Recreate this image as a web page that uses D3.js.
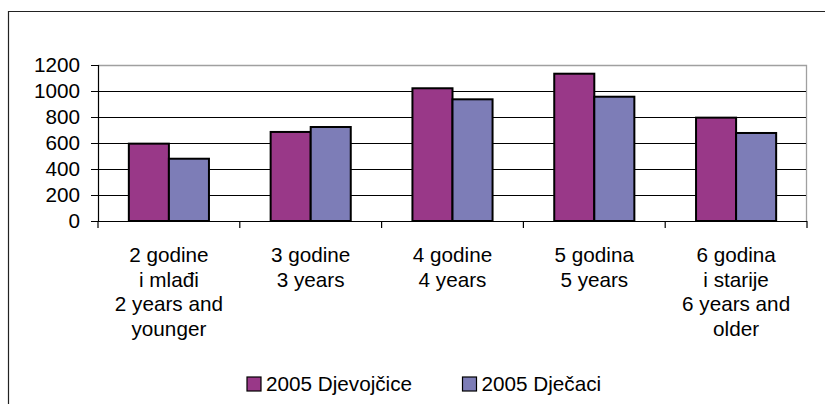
<!DOCTYPE html>
<html>
<head>
<meta charset="utf-8">
<script src="https://cdn.jsdelivr.net/npm/d3@7"></script>
<style>
  html, body { margin: 0; padding: 0; background: #fff; }
  svg { display: block; font-family: Arial, "Liberation Sans", sans-serif; }
</style>
</head>
<body>
<svg id="chart" width="825" height="404"></svg>
<script>
const categories = [
  ["2 godine", "i mlađi", "2 years and", "younger"],
  ["3 godine", "3 years"],
  ["4 godine", "4 years"],
  ["5 godina", "5 years"],
  ["6 godina", "i starije", "6 years and", "older"]
];
const seriesNames = ["2005 Djevojčice", "2005 Dječaci"];
const girls = [595, 685, 1021, 1133, 795];
const boys = [479, 723, 936, 956, 677];
const yTicks = [0, 200, 400, 600, 800, 1000, 1200];
const colors = ["#993888", "#7d7db7"];

const svg = d3.select("#chart");
const plot = { left: 98, right: 807, top: 65, bottom: 221 };
const fontSize = 20.7;

// outer frame
svg.append("path")
  .attr("d", "M8.5,404 L8.5,11.5 L825,11.5")
  .attr("fill", "none").attr("stroke", "#222").attr("stroke-width", 1.2);

const idx = categories.map((d, i) => i);
const x0 = d3.scaleBand().domain(idx).range([plot.left, plot.right]).paddingInner(0).paddingOuter(0);
const x1 = d3.scaleBand().domain([0, 1]).range([0, x0.bandwidth()]).paddingInner(0).paddingOuter(0.77);
const y = d3.scaleLinear().domain([0, 1200]).range([plot.bottom, plot.top]);

// plot area border (gray top & right)
svg.append("path")
  .attr("d", `M${plot.left},${plot.top + 0.5} L${plot.right - 0.5},${plot.top + 0.5} L${plot.right - 0.5},${plot.bottom}`)
  .attr("fill", "none").attr("stroke", "#a0a0a0").attr("stroke-width", 1.3);

// gridlines
svg.append("g").selectAll("line")
  .data(yTicks.filter(t => t > 0 && t < 1200))
  .join("line")
  .attr("x1", plot.left).attr("x2", plot.right - 1)
  .attr("y1", d => Math.round(y(d)) + 0.5).attr("y2", d => Math.round(y(d)) + 0.5)
  .attr("stroke", "#000").attr("stroke-width", 1);

// bars
const data = idx.map(i => [girls[i], boys[i]]);
const groups = svg.append("g").selectAll("g")
  .data(data).join("g")
  .attr("transform", (d, i) => `translate(${x0(i)},0)`);
groups.selectAll("rect")
  .data(d => d.map((v, s) => ({ v, s })))
  .join("rect")
  .attr("x", d => x1(d.s))
  .attr("width", x1.bandwidth())
  .attr("y", d => y(d.v))
  .attr("height", d => y(0) - y(d.v))
  .attr("fill", d => colors[d.s])
  .attr("stroke", "#000").attr("stroke-width", 2);

// y axis
const yAxis = d3.axisLeft(y).tickValues(yTicks).tickSize(7).tickPadding(11).tickFormat(d3.format("d"));
const gy = svg.append("g").attr("transform", `translate(${plot.left},0)`).call(yAxis);
gy.select(".domain").attr("stroke", "#000").attr("stroke-width", 1.2);
gy.selectAll(".tick line").attr("stroke", "#000");
gy.selectAll("text").attr("font-size", fontSize).attr("fill", "#000")
  .attr("font-family", "Arial, 'Liberation Sans', sans-serif");

// x axis baseline and ticks
const boundaries = idx.map(i => x0(i)).concat([plot.right]);
svg.append("line")
  .attr("x1", plot.left).attr("x2", plot.right)
  .attr("y1", plot.bottom + 0.5).attr("y2", plot.bottom + 0.5)
  .attr("stroke", "#000").attr("stroke-width", 1.2);
svg.append("g").selectAll("line")
  .data(boundaries).join("line")
  .attr("x1", d => d).attr("x2", d => d)
  .attr("y1", plot.bottom).attr("y2", plot.bottom + 7)
  .attr("stroke", "#000").attr("stroke-width", 1.2);

// category labels
const labels = svg.append("g").selectAll("text")
  .data(categories).join("text")
  .attr("text-anchor", "middle")
  .attr("font-size", fontSize)
  .attr("fill", "#000")
  .attr("x", (d, i) => x0(i) + x0.bandwidth() / 2)
  .attr("y", 262);
labels.selectAll("tspan")
  .data(d => d).join("tspan")
  .attr("x", function () { return d3.select(this.parentNode).attr("x"); })
  .attr("dy", (d, j) => j === 0 ? 0 : 24.6)
  .text(d => d);

// legend
const legendX = [247, 462.5];
const lg = svg.append("g").selectAll("g")
  .data(seriesNames).join("g")
  .attr("transform", (d, i) => `translate(${legendX[i]},377)`);
lg.append("rect")
  .attr("width", 14).attr("height", 14)
  .attr("fill", (d, i) => colors[i])
  .attr("stroke", "#000").attr("stroke-width", 1.2);
lg.append("text")
  .attr("x", 19).attr("y", 14)
  .attr("font-size", fontSize)
  .attr("fill", "#000")
  .text(d => d);
</script>
</body>
</html>
